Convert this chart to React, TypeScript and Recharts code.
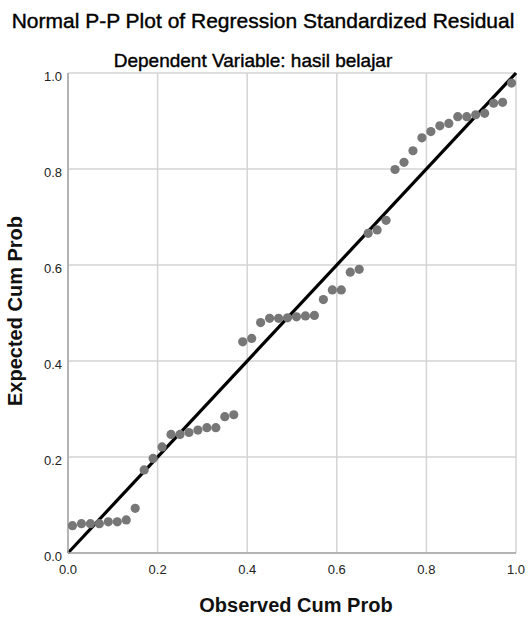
import React from 'react';
import { ScatterChart, Scatter, XAxis, YAxis, CartesianGrid, ReferenceLine } from 'recharts';

const TITLE = 'Normal P-P Plot of Regression Standardized Residual';
const SUBTITLE = 'Dependent Variable: hasil belajar';
const X_LABEL = 'Observed Cum Prob';
const Y_LABEL = 'Expected Cum Prob';

const TICKS = [0, 0.2, 0.4, 0.6, 0.8, 1.0];

// observed cumulative probability of each residual
const observed = [
  0.01, 0.03, 0.05, 0.07, 0.09, 0.11, 0.13, 0.15, 0.17, 0.19,
  0.21, 0.23, 0.25, 0.27, 0.29, 0.31, 0.33, 0.35, 0.37, 0.39,
  0.41, 0.43, 0.45, 0.47, 0.49, 0.51, 0.53, 0.55, 0.57, 0.59,
  0.61, 0.63, 0.65, 0.67, 0.69, 0.71, 0.73, 0.75, 0.77, 0.79,
  0.81, 0.83, 0.85, 0.87, 0.89, 0.91, 0.93, 0.95, 0.97, 0.99,
];

// expected cumulative probability (normal)
const expected = [
  0.057, 0.061, 0.061, 0.061, 0.065, 0.065, 0.069, 0.093, 0.173, 0.197,
  0.221, 0.247, 0.247, 0.251, 0.256, 0.261, 0.261, 0.284, 0.288, 0.440,
  0.447, 0.480, 0.489, 0.489, 0.490, 0.492, 0.494, 0.495, 0.528, 0.548,
  0.548, 0.585, 0.591, 0.666, 0.673, 0.693, 0.799, 0.814, 0.838, 0.865,
  0.878, 0.890, 0.895, 0.909, 0.909, 0.913, 0.916, 0.937, 0.939, 0.979,
];

const FONT = '"Liberation Sans", Arial, sans-serif';

const points = observed.map((x, i) => ({ x, y: expected[i] }));

const Dot = (props: any) => {
  const { cx, cy } = props;
  return <circle cx={cx} cy={cy} r={4.6} fill="#777777" />;
};

const fmt = (v: number) => v.toFixed(1);

export default function App() {
  return (
    <div style={{ position: 'absolute', left: 0, top: 0, width: 528, height: 620, background: '#fff' }}>
      <ScatterChart
        width={528}
        height={620}
        margin={{ top: 73, right: 12, left: 0, bottom: 0 }}
        style={{ fontFamily: FONT }}
      >
        <CartesianGrid stroke="#d4d4d4" strokeWidth={1.5} horizontalValues={TICKS} verticalValues={TICKS} />
        <XAxis
          type="number"
          dataKey="x"
          domain={[0, 1]}
          ticks={TICKS}
          tickFormatter={fmt}
          height={67}
          tickLine={false}
          tickMargin={6}
          axisLine={{ stroke: '#a6a6a6', strokeWidth: 1.5 }}
          tick={{ fill: '#222', fontSize: 13 }}
        />
        <YAxis
          type="number"
          dataKey="y"
          domain={[0, 1]}
          ticks={TICKS}
          tickFormatter={fmt}
          width={68}
          tickLine={false}
          tickMargin={0}
          axisLine={{ stroke: '#a6a6a6', strokeWidth: 1.5 }}
          tick={{ fill: '#222', fontSize: 13, dy: 3 }}
        />
        <Scatter data={points} shape={<Dot />} isAnimationActive={false} />
        <ReferenceLine
          segment={[{ x: 0, y: 0 }, { x: 1, y: 1 }]}
          stroke="#000"
          strokeWidth={3.2}
        />
      </ScatterChart>
      <svg
        width={528}
        height={620}
        style={{ position: 'absolute', left: 0, top: 0, pointerEvents: 'none', fontFamily: FONT }}
      >
        {/* SPSS titles render a touch heavier than plain regular */}
        <text x={263} y={28} textAnchor="middle" fontSize={21} fill="#000" stroke="#000" strokeWidth={0.4}>
          {TITLE}
        </text>
        <text x={253} y={67} textAnchor="middle" fontSize={19} fill="#000" stroke="#000" strokeWidth={0.4}>
          {SUBTITLE}
        </text>
        <text x={296} y={612} textAnchor="middle" fontSize={20} fontWeight="bold" fill="#111">{X_LABEL}</text>
        <text
          x={22}
          y={311}
          textAnchor="middle"
          fontSize={20}
          fontWeight="bold"
          fill="#111"
          transform="rotate(-90 22 311)"
        >
          {Y_LABEL}
        </text>
      </svg>
    </div>
  );
}
